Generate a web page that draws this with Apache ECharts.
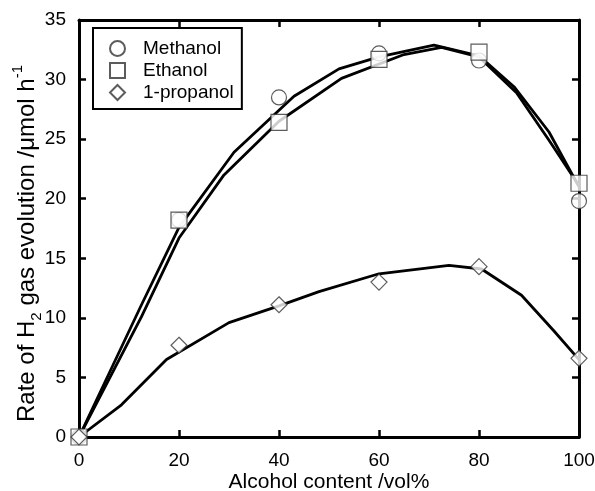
<!DOCTYPE html>
<html>
<head>
<meta charset="utf-8">
<script src="https://cdn.jsdelivr.net/npm/echarts@6/dist/echarts.min.js"></script>
<style>html,body{margin:0;padding:0;background:#fff}#c{width:595px;height:491px}</style>
</head>
<body>
<div id="c"></div>
<script>
// Measured points
var xPoints = [0, 20, 40, 60, 80, 100];
var methanol = [0, 18.2, 28.5, 32.2, 31.6, 19.8];
var ethanol = [0, 18.2, 26.4, 31.7, 32.3, 21.3];
var propanol = [0, 7.7, 11.1, 13.0, 14.3, 6.6];

// Fitted curves
var methanolFitX = [0, 12.5, 20, 31, 43, 52, 60, 71, 80, 87, 94, 100];
var methanolFitY = [0, 11.1, 17.6, 23.9, 28.6, 30.9, 31.9, 32.9, 32.0, 29.4, 25.6, 21.0];
var ethanolFitX = [0, 12.5, 20, 29, 40, 52.5, 65, 72.5, 80, 87.5, 94, 100];
var ethanolFitY = [0, 10.1, 16.7, 22.0, 26.5, 30.1, 32.1, 32.7, 31.9, 28.9, 24.9, 21.1];
var propanolFitX = [0, 8.5, 17.5, 30, 40, 48, 60, 74, 80.5, 88.5, 95, 100];
var propanolFitY = [0, 2.7, 6.5, 9.6, 11.0, 12.2, 13.7, 14.4, 14.1, 11.9, 8.9, 6.5];

var xTicks = { min: 0, max: 100, interval: 20 };
var yTicks = { min: 0, max: 35, interval: 5 };

function zip(xs, ys) { return xs.map(function (x, i) { return [x, ys[i]]; }); }

var FONT = 'Liberation Sans, Arial, Helvetica, sans-serif';
var axisLine = { show: true, onZero: false, lineStyle: { color: '#000', width: 3 } };
var axisTick = { show: true, inside: true, length: 7, lineStyle: { color: '#000', width: 2.5 } };

var chart = echarts.init(document.getElementById('c'), null, { renderer: 'canvas' });

var markerStyle = { color: '#fff', borderColor: '#333', borderWidth: 1.2 };
var lineStyle = { color: '#000', width: 2.8 };

chart.setOption({
  animation: false,
  backgroundColor: '#fff',
  textStyle: { fontFamily: FONT },
  grid: { left: 79, right: 16, top: 20, bottom: 54, containLabel: false, outerBoundsMode: 'none' },
  legend: {
    orient: 'vertical',
    left: 93, top: 28,
    padding: [11, 8, 7, 16],
    itemGap: 3,
    itemWidth: 15, itemHeight: 15,
    symbolKeepAspect: true,
    borderColor: '#000', borderWidth: 2, borderRadius: 0,
    backgroundColor: '#fff',
    textStyle: { fontSize: 19, color: '#000', fontFamily: FONT, padding: [0, 0, 0, 13] },
    data: ['Methanol', 'Ethanol', '1-propanol']
  },
  xAxis: [{
    type: 'value', position: 'bottom',
    min: xTicks.min, max: xTicks.max, interval: xTicks.interval,
    axisLine: axisLine, axisTick: axisTick, splitLine: { show: false },
    axisLabel: { fontSize: 19, color: '#000', margin: 14, fontFamily: FONT },
    name: 'Alcohol content /vol%', nameLocation: 'middle', nameGap: 35, nameMoveOverlap: false,
    nameTextStyle: { fontSize: 21, color: '#000', fontFamily: FONT }
  }, {
    type: 'value', position: 'top',
    min: xTicks.min, max: xTicks.max, interval: xTicks.interval,
    axisLine: axisLine, axisTick: axisTick, splitLine: { show: false },
    axisLabel: { show: false }
  }],
  yAxis: [{
    type: 'value', position: 'left',
    min: yTicks.min, max: yTicks.max, interval: yTicks.interval,
    axisLine: axisLine, axisTick: axisTick, splitLine: { show: false },
    axisLabel: { fontSize: 19, color: '#000', margin: 13, fontFamily: FONT },
    name: '{a|Rate of H}{b|2}{a| gas evolution /}{a|\u03bcmol h}{c|-1}',
    nameLocation: 'middle', nameGap: 35, nameRotate: 90, nameMoveOverlap: false,
    nameTextStyle: {
      color: '#000', fontFamily: FONT, fontSize: 24,
      padding: [0, 30, 0, 0],
      rich: {
        a: { fontSize: 24, color: '#000', fontFamily: FONT, lineHeight: 34, verticalAlign: 'middle' },
        b: { fontSize: 15, color: '#000', fontFamily: FONT, lineHeight: 15, verticalAlign: 'bottom' },
        c: { fontSize: 15, color: '#000', fontFamily: FONT, lineHeight: 15, verticalAlign: 'top' }
      }
    }
  }, {
    type: 'value', position: 'right',
    min: yTicks.min, max: yTicks.max, interval: yTicks.interval,
    axisLine: axisLine, axisTick: axisTick, splitLine: { show: false },
    axisLabel: { show: false }
  }],
  series: [
    { name: 'fitM', type: 'line', data: zip(methanolFitX, methanolFitY), showSymbol: false, symbol: 'none', lineStyle: lineStyle, z: 2, silent: true },
    { name: 'fitE', type: 'line', data: zip(ethanolFitX, ethanolFitY), showSymbol: false, symbol: 'none', lineStyle: lineStyle, z: 2, silent: true },
    { name: 'fitP', type: 'line', data: zip(propanolFitX, propanolFitY), showSymbol: false, symbol: 'none', lineStyle: lineStyle, z: 2, silent: true },
    { name: 'Methanol', type: 'scatter', data: zip(xPoints, methanol), symbol: 'circle', symbolSize: 15, itemStyle: markerStyle, z: 3 },
    { name: 'Ethanol', type: 'scatter', data: zip(xPoints, ethanol), symbol: 'rect', symbolSize: 16, itemStyle: markerStyle, z: 4 },
    { name: '1-propanol', type: 'scatter', data: zip(xPoints, propanol), symbol: 'diamond', symbolSize: 16, itemStyle: markerStyle, z: 5 }
  ]
});
</script>
</body>
</html>
